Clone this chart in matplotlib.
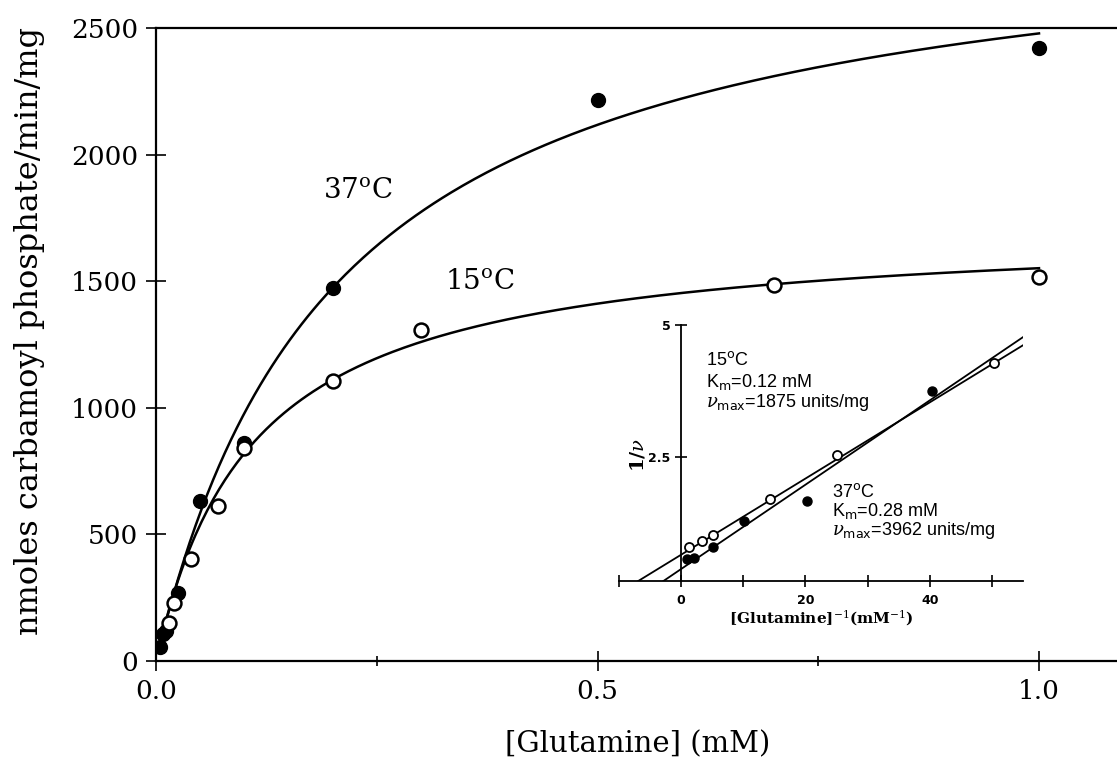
import numpy as np
import matplotlib
matplotlib.use('Agg')
import matplotlib.pyplot as plt

plt.rcParams['font.family'] = 'DejaVu Serif'
plt.rcParams['mathtext.fontset'] = 'dejavuserif'

# main plot: rate vs [glutamine] (mM)
gln_37 = [0.005, 0.008, 0.011, 0.025, 0.05, 0.1, 0.2, 0.5, 1.0]
v_37 = [54, 105, 120, 267, 633, 862, 1474, 2216, 2422]
gln_15 = [0.015, 0.02, 0.04, 0.07, 0.1, 0.2, 0.3, 0.7, 1.0]
v_15 = [151, 228, 402, 612, 840, 1106, 1307, 1485, 1518]

# hyperbolic fits as drawn (Km in mM, Vmax in nmol/min/mg)
fit_37 = (0.2055, 2988)
fit_15 = (0.110, 1722)

# inset: double reciprocal plot
inv_s_15 = [1.2, 3.3, 5.2, 14.35, 25.1, 50.3]
inv_v_15 = [0.81, 0.92, 1.03, 1.71, 2.54, 4.28]
inv_s_37 = [1.0, 2.0, 5.2, 10.05, 20.3, 40.3]
inv_v_37 = [0.57, 0.60, 0.81, 1.30, 1.67, 3.76]
# line fits: (slope, intercept)
line_15 = (0.072, 0.657)
line_37 = (0.0797, 0.387)

fig = plt.figure(figsize=(11.17, 7.63), dpi=100)
ax = fig.add_axes([156/1117, 1-661/763, 1-156/1117, (661-28)/763])

xs = np.linspace(0.005, 1.0, 300)
for (km, vm) in (fit_37, fit_15):
    ax.plot(xs, vm*xs/(km+xs), color='black', lw=1.8, zorder=2)

ax.plot(gln_37, v_37, 'o', color='black', ms=10, zorder=3)
ax.plot(gln_15, v_15, 'o', mfc='white', mec='black', mew=1.8, ms=10, zorder=3)

ax.set_xlim(0, (1117-156)/883)
ax.set_ylim(0, 2500)
ax.spines['right'].set_visible(False)
for s in ['left', 'bottom', 'top']:
    ax.spines[s].set_linewidth(1.6)

ax.set_xticks([0, 0.5, 1.0])
ax.set_xticklabels(['0.0', '0.5', '1.0'])
ax.set_xticks([0.25, 0.75], minor=True)
ax.set_yticks([0, 500, 1000, 1500, 2000, 2500])
ax.tick_params(which='major', direction='inout', length=14, width=1.2, labelsize=19)
ax.tick_params(which='minor', direction='inout', length=7, width=1.2)
ax.tick_params(axis='x', pad=6)
ax.tick_params(axis='y', pad=6)

ax.set_xlabel('[Glutamine] (mM)', fontsize=21)
ax.set_ylabel('nmoles carbamoyl phosphate/min/mg', fontsize=23)
ax.xaxis.set_label_coords((638-156)/(1117-156), -0.11)
ax.yaxis.set_label_coords(-0.115, 0.521)

ax.text(0.189, 1860, r'37$^{\rm o}$C', fontsize=20, va='center')
ax.text(0.327, 1497, r'15$^{\rm o}$C', fontsize=20, va='center')

# inset
ins = fig.add_axes([619/1117, 1-581/763, (1023-619)/1117, (581-325)/763])
ins.patch.set_alpha(0)
xl = np.array([-10, 55.5])
for (m, b) in (line_15, line_37):
    ins.plot(xl, m*xl+b, color='black', lw=1.3)
ins.plot(inv_s_37, inv_v_37, 'o', color='black', ms=6.5)
ins.plot(inv_s_15, inv_v_15, 'o', mfc='white', mec='black', mew=1.3, ms=6.5)

ins.set_xlim(-10, 55)
ins.set_ylim(0.16, 5)
ins.spines['left'].set_position(('data', 0))
ins.spines['right'].set_visible(False)
ins.spines['top'].set_visible(False)
ins.spines['left'].set_linewidth(1.3)
ins.spines['bottom'].set_linewidth(1.3)
ins.set_xticks([-10, 0, 10, 20, 30, 40, 50])
ins.set_xticklabels(['', '0', '', '20', '', '40', ''])
ins.set_yticks([2.5, 5])
ins.set_yticklabels(['2.5', '5'])
ins.tick_params(direction='inout', length=9, width=1.2, labelsize=9)
ins.tick_params(axis='x', pad=5)
ins.tick_params(axis='y', pad=3)
for lab in ins.get_xticklabels() + ins.get_yticklabels():
    lab.set_fontweight('bold')
    lab.set_fontfamily('DejaVu Sans')

ins.set_xlabel(r'[Glutamine]$^{-1}$(mM$^{-1}$)', fontsize=11, fontweight='bold', labelpad=1)
ins.text(-6.9, 2.55, r'1/$\nu$', rotation=90, fontsize=14, fontweight='bold',
         ha='center', va='center')

sans = 'Liberation Sans'
ins.text(4.0, 4.34, r'15$^{\sf o}$C', fontsize=13, family=sans, va='center')
ins.text(4.0, 3.92, r'K$_{\sf m}$=0.12 mM', fontsize=13, family=sans, va='center')
ins.text(4.0, 3.53, r'$\nu_{\sf max}$=1875 units/mg', fontsize=13, family=sans, va='center')
ins.text(24.2, 1.84, r'37$^{\sf o}$C', fontsize=13, family=sans, va='center')
ins.text(24.2, 1.48, r'K$_{\sf m}$=0.28 mM', fontsize=13, family=sans, va='center')
ins.text(24.2, 1.12, r'$\nu_{\sf max}$=3962 units/mg', fontsize=13, family=sans, va='center')

fig.savefig('out.png', dpi=100)
